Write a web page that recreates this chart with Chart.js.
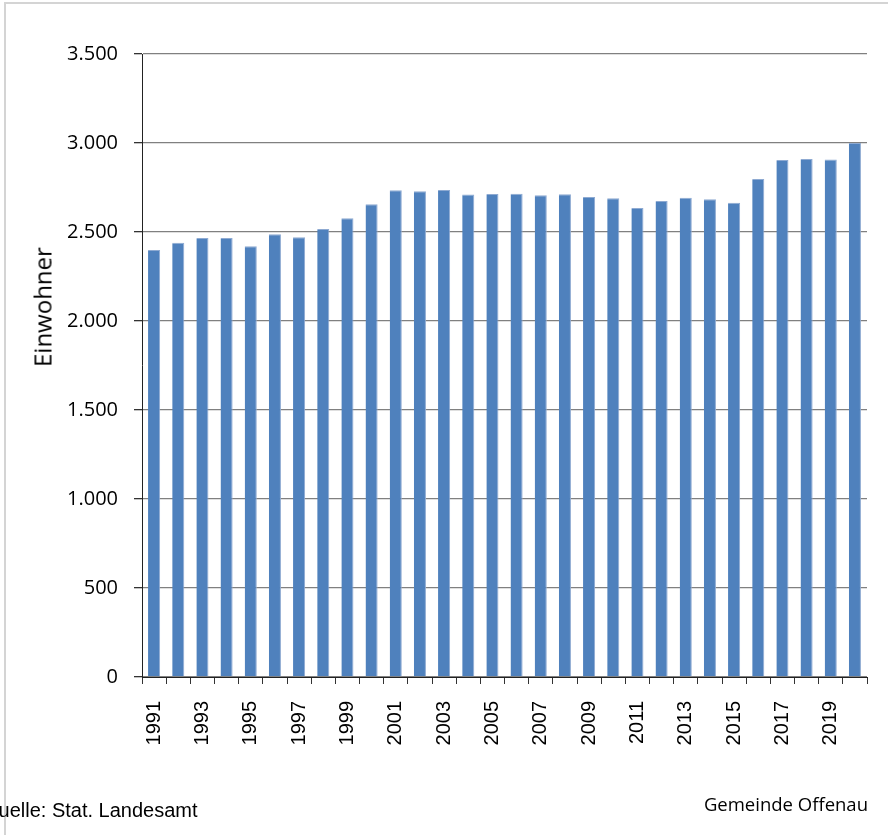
<!DOCTYPE html>
<html>
<head>
<meta charset="utf-8">
<script src="https://cdn.jsdelivr.net/npm/chart.js@4"></script>
<style>
  html, body { margin: 0; padding: 0; background: #fff; }
  #wrap { position: relative; width: 888px; height: 835px; overflow: hidden; }
  #frame { position: absolute; left: 4px; top: 2px; width: 900px; height: 900px;
           border-left: 2px solid #d4d4d4; border-top: 2px solid #d4d4d4; }
  canvas { position: absolute; left: 0; top: 0; }
  .ytitle { position: absolute; left: 42px; top: 307px; transform: translate(-50%, -50%) rotate(-90deg);
            font-family: "Open Sans", sans-serif; font-size: 24px; color: #000; white-space: nowrap; }
  .quelle { position: absolute; left: -17px; top: 799px; font-family: "Liberation Sans", Arial, sans-serif;
            font-size: 20px; color: #000; white-space: nowrap; }
  .gemeinde { position: absolute; right: 20px; top: 791px; font-family: "Open Sans", sans-serif;
              font-size: 18.5px; color: #000; white-space: nowrap; }
</style>
</head>
<body>
<div id="wrap">
  <div id="frame"></div>
  <canvas id="chart" width="888" height="835"></canvas>
  <div class="ytitle">Einwohner</div>
  <div class="quelle">Quelle: Stat. Landesamt</div>
  <div class="gemeinde">Gemeinde Offenau</div>
</div>
<script>
// Einwohner je Jahr
const years = ["1991","1992","1993","1994","1995","1996","1997","1998","1999","2000",
               "2001","2002","2003","2004","2005","2006","2007","2008","2009","2010",
               "2011","2012","2013","2014","2015","2016","2017","2018","2019","2020"];
const einwohner = [2399, 2440, 2466, 2466, 2420, 2487, 2470, 2517, 2577, 2656,
                   2734, 2729, 2736, 2710, 2713, 2715, 2706, 2712, 2697, 2689,
                   2635, 2674, 2693, 2684, 2665, 2798, 2904, 2910, 2908, 3000];
const yTicks = [0, 500, 1000, 1500, 2000, 2500, 3000, 3500];

function punkt(v) {
  return String(v).replace(/\B(?=(\d{3})+(?!\d))/g, ".");
}

new Chart(document.getElementById("chart"), {
  type: "bar",
  data: {
    labels: years,
    datasets: [{
      data: einwohner,
      backgroundColor: "#4f81bd",
      borderColor: "#8eaad2",
      borderWidth: { top: 1, right: 1, left: 0, bottom: 0 },
      borderSkipped: "start",
      barPercentage: 0.5,
      categoryPercentage: 1
    }]
  },
  options: {
    responsive: false,
    animation: false,
    layout: { padding: { left: 0, top: 54, right: 21, bottom: 0 } },
    plugins: { legend: { display: false }, tooltip: { enabled: false } },
    scales: {
      x: {
        grid: { drawOnChartArea: false, drawTicks: true, tickLength: 7, color: "#333", offset: true },
        border: { color: "#222", width: 1 },
        ticks: {
          autoSkip: false,
          maxRotation: 90,
          minRotation: 90,
          padding: 17,
          color: "#000",
          font: { family: "'Liberation Sans', Arial, sans-serif", size: 20 },
          callback: (v, i) => (i % 2 === 0 ? years[i] : "")
        },
        afterFit: s => {
          s.height = 158;
          s.paddingLeft = 0;
          s.paddingRight = 0;
        }
      },
      y: {
        min: 0,
        max: 3500,
        afterBuildTicks: s => { s.ticks = yTicks.map(v => ({ value: v })); },
        grid: { color: "#808080", lineWidth: 1.3, tickLength: 8, tickColor: "#333" },
        border: { color: "#222", width: 1 },
        ticks: {
          padding: 16,
          color: "#000",
          font: { family: "'Open Sans', sans-serif", size: 20 },
          callback: v => punkt(v)
        },
        afterFit: s => { s.width = 142; }
      }
    }
  }
});
</script>
</body>
</html>
